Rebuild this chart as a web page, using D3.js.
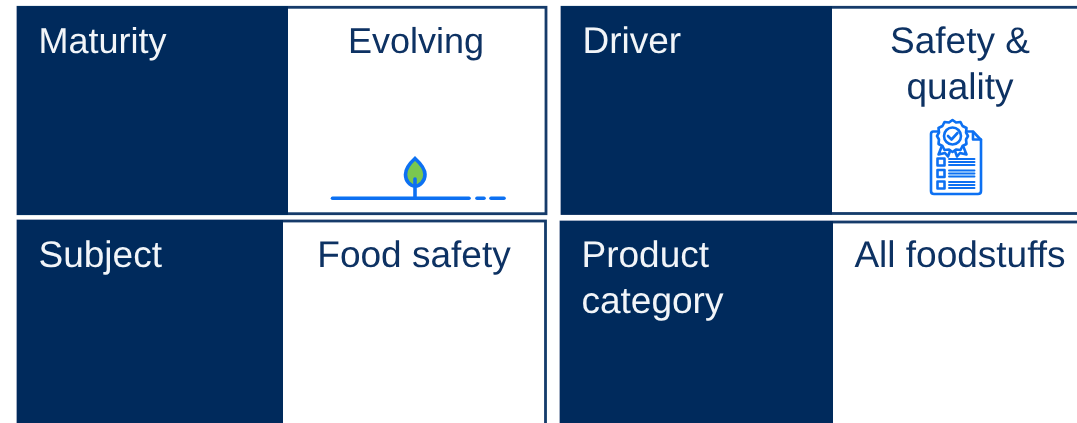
<!DOCTYPE html>
<html>
<head>
<meta charset="utf-8">
<script src="https://cdn.jsdelivr.net/npm/d3@7"></script>
<style>
    html, body { margin: 0; padding: 0; background: #fff; overflow: hidden; }
    text { font-family: "Liberation Sans", Arial, sans-serif; text-rendering: geometricPrecision; }
</style>
</head>
<body>
<div id="chart"></div>
<script>
// Create data
var labels = [['Maturity'], ['Driver'], ['Subject'], ['Product', 'category']];
var values = [['Evolving'], ['Safety &', 'quality'], ['Food safety'], ['All foodstuffs']];

var navy = '#002c5c',
    blue = '#0a70f2',
    green = '#7ac74f';

// tile layout
var tiles = [
    { x0: 17, x1: 547, split: 288, y0: 7.3, y1: 213.7, font: 36 },
    { x0: 561, x1: 1084, split: 832, y0: 7.3, y1: 213.5, font: 37 },
    { x0: 17, x1: 546.5, split: 283, y0: 221, y1: 434, font: 37 },
    { x0: 560, x1: 1084, split: 833, y0: 222, y1: 434, font: 37 }
];

var svg = d3.select('#chart').append('svg')
    .attr('width', 1077)
    .attr('height', 423)
    .style('display', 'block');

svg.append('defs').append('filter')
    .attr('id', 'soft')
    .append('feGaussianBlur')
    .attr('stdDeviation', 0.4);

var tile = svg.selectAll('.tile')
    .data(tiles)
    .enter().append('g')
    .attr('class', 'tile')
    .attr('filter', 'url(#soft)');

// white value box with navy outline
tile.append('rect')
    .attr('x', d => d.x0 + 1)
    .attr('y', d => d.y0)
    .attr('width', d => d.x1 - d.x0 - 2)
    .attr('height', d => d.y1 - d.y0)
    .attr('fill', '#fff')
    .attr('stroke', '#133a6b')
    .attr('stroke-width', 2.8);

tile.append('rect')
    .attr('x', d => d.x0)
    .attr('y', d => d.y0 - 1)
    .attr('width', d => d.split - d.x0)
    .attr('height', d => d.y1 - d.y0 + 2)
    .attr('fill', navy);

var lineHeight = 45.5;

function firstBaseline(i) {
    return i < 2 ? 53 : 267;
}

tile.append('text')
    .attr('fill', '#f2f5f9')
    .style('font-size', d => d.font + 'px')
    .attr('x', (d, i) => d.x0 + 21.5)
    .attr('y', (d, i) => firstBaseline(i))
    .selectAll('tspan')
    .data((d, i) => labels[i])
    .enter().append('tspan')
    .attr('x', function () { return this.parentNode.getAttribute('x'); })
    .attr('dy', (d, i) => i ? lineHeight : 0)
    .text(d => d);

tile.append('text')
    .attr('fill', '#0f3263')
    .attr('text-anchor', 'middle')
    .style('font-size', d => d.font + 'px')
    .attr('x', (d, i) => [416, 960, 414, 960][i])
    .attr('y', (d, i) => firstBaseline(i))
    .selectAll('tspan')
    .data((d, i) => values[i])
    .enter().append('tspan')
    .attr('x', function () { return this.parentNode.getAttribute('x'); })
    .attr('dy', (d, i) => i ? lineHeight : 0)
    .text(d => d);

// icons
var soft = svg.append('g').attr('filter', 'url(#soft)');

var sprout = soft.append('g')
    .attr('fill', 'none')
    .attr('stroke', blue)
    .attr('stroke-width', 3.6)
    .attr('stroke-linecap', 'round');
sprout.append('path')
    .attr('d', 'M415 158.5C410 163 405.500 168 405.500 174.500C405.500 181 410 186 415 186C420 186 425 181 425 174.500C425 168 420 163 415 158.500Z')
    .attr('fill', green);
sprout.append('path').attr('d', 'M415 179V198');
sprout.append('path').attr('d', 'M332.500 198.300H469');
sprout.append('path').attr('d', 'M477 198.300H484');
sprout.append('path').attr('d', 'M491 198.300H504');

var report = soft.append('g')
    .attr('fill', 'none')
    .attr('stroke', blue)
    .attr('stroke-width', 2.6)
    .attr('stroke-linejoin', 'round')
    .attr('stroke-linecap', 'round');
// sheet with folded corner
report.append('path')
    .attr('d', 'M939 131.500H933.500C932 131.500 931 132.500 931 134V191C931 193 932 194 934 194H978C980 194 981 193 981 191V140L973 131.500H967');
report.append('path').attr('d', 'M973 132V139.500H981');
// rosette
report.append('path')
    .attr('fill', '#fff')
    .attr('d', 'M952.500 120L956 122.500L960.500 122L962.500 126L966.500 128L966 132.500L968 136L966 139.500L966.500 144L962.500 146L960.500 150L956 149.500L952.500 152L949 149.500L944.500 150L942.500 146L938.500 144L939 139.500L937 136L939 132.500L938.500 128L942.500 126L944.500 122L949 122.500Z');
report.append('circle').attr('cx', 952.5).attr('cy', 136).attr('r', 8.5);
report.append('path').attr('d', 'M948 136L951.500 139.500L957.500 133');
// ribbons
report.append('path').attr('d', 'M941.500 147L938.500 154.500L945 153L948 156.500L950 151');
report.append('path').attr('d', 'M963.500 147L966.500 154.500L960 153L957 156.500L955 151');
// check list rows
var rows = [162, 173.5, 185];
report.selectAll('.box')
    .data(rows)
    .enter().append('rect')
    .attr('class', 'box')
    .attr('x', 937.500)
    .attr('y', d => d - 3.5)
    .attr('width', 7)
    .attr('height', 7);
report.selectAll('.rule')
    .data(rows)
    .enter().append('path')
    .attr('class', 'rule')
    .attr('stroke-width', 1.9)
    .attr('d', d => 'M949 ' + (d - 3) + 'H974.500M949 ' + d + 'H974.500M949 ' + (d + 3) + 'H974.500');
</script>
</body>
</html>
